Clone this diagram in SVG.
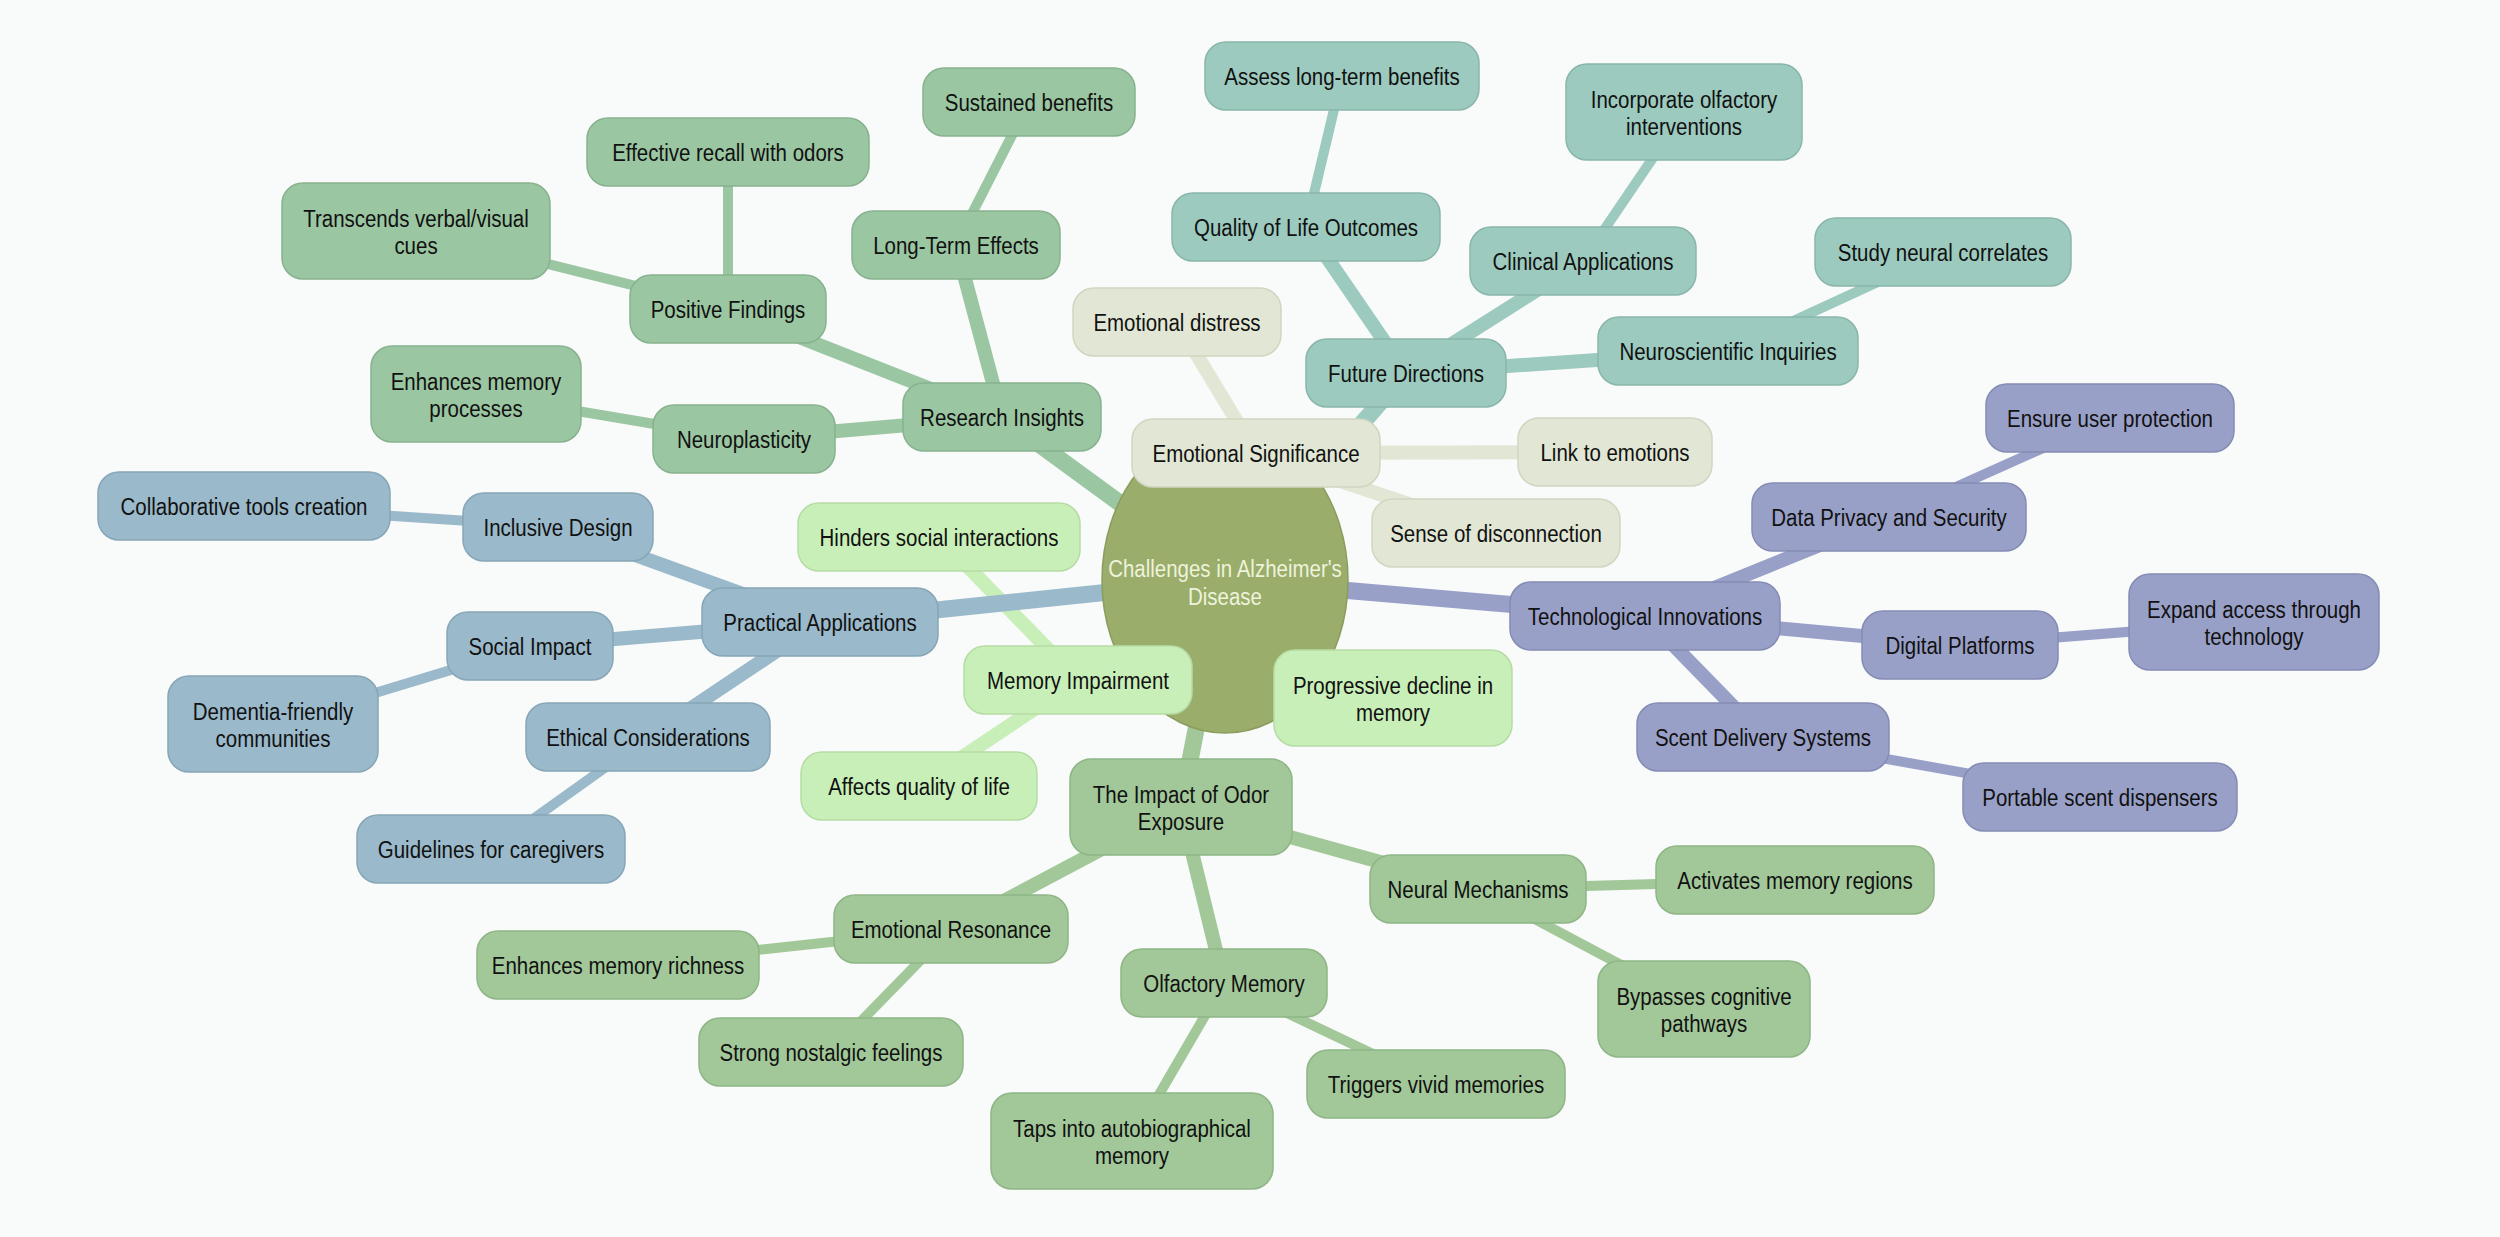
<svg xmlns="http://www.w3.org/2000/svg" width="2500" height="1237" viewBox="0 0 2500 1237">
<style>
  .bg { fill: #f9fafa; }
  .nd rect { rx: 21px; ry: 21px; stroke-width: 1.5; }
  .nd text { font-family: "Liberation Sans", Arial, sans-serif; font-size: 23px; fill: #111; text-anchor: middle; }
  .root ellipse { fill: #9aad6a; stroke: #8a9d5c; stroke-width: 1.5; }
  .root text { fill: #eef3dc; }
  .mem rect { fill: #c9efb8; stroke: #b6dca5; }
  .emo rect { fill: #e1e7d4; stroke: #cfd6c1; }
  .res rect { fill: #9bc6a2; stroke: #88b28f; }
  .fut rect { fill: #9ccabe; stroke: #89b6aa; }
  .tec rect { fill: #99a0c8; stroke: #858cb4; }
  .pra rect { fill: #9ab9ca; stroke: #87a6b7; }
  .imp rect { fill: #a2c899; stroke: #8fb586; }
  #edges line { stroke-linecap: round; fill: none; }
  .d0 { stroke-width: 17; }
  .d1 { stroke-width: 14; }
  .d2 { stroke-width: 10; }
  .e-mem { stroke: #c9efb8; }
  .e-emo { stroke: #e1e7d4; }
  .e-res { stroke: #9bc6a2; }
  .e-fut { stroke: #9ccabe; }
  .e-tec { stroke: #99a0c8; }
  .e-pra { stroke: #9ab9ca; }
  .e-imp { stroke: #a2c899; }
</style>
<rect class="bg" x="0" y="0" width="2500" height="1237"/>

<g id="edges">
  <!-- Memory Impairment -->
  <line class="d0 e-mem" x1="1225" y1="580" x2="1078" y2="680"/>
  <line class="d1 e-mem" x1="1078" y1="680" x2="1393" y2="698"/>
  <line class="d1 e-mem" x1="1078" y1="680" x2="939" y2="537"/>
  <line class="d1 e-mem" x1="1078" y1="680" x2="919" y2="786"/>
  <!-- Emotional Significance -->
  <line class="d0 e-emo" x1="1225" y1="580" x2="1256" y2="453"/>
  <line class="d1 e-emo" x1="1256" y1="453" x2="1177" y2="322"/>
  <line class="d1 e-emo" x1="1256" y1="453" x2="1615" y2="452"/>
  <line class="d1 e-emo" x1="1256" y1="453" x2="1496" y2="533"/>
  <!-- Research Insights -->
  <line class="d0 e-res" x1="1225" y1="580" x2="1002" y2="417"/>
  <line class="d1 e-res" x1="1002" y1="417" x2="728" y2="309"/>
  <line class="d2 e-res" x1="728" y1="309" x2="728" y2="152"/>
  <line class="d2 e-res" x1="728" y1="309" x2="416" y2="231"/>
  <line class="d1 e-res" x1="1002" y1="417" x2="956" y2="245"/>
  <line class="d2 e-res" x1="956" y1="245" x2="1029" y2="102"/>
  <line class="d1 e-res" x1="1002" y1="417" x2="744" y2="439"/>
  <line class="d2 e-res" x1="744" y1="439" x2="476" y2="394"/>
  <!-- Future Directions -->
  <line class="d0 e-fut" x1="1225" y1="580" x2="1406" y2="373"/>
  <line class="d1 e-fut" x1="1406" y1="373" x2="1306" y2="227"/>
  <line class="d2 e-fut" x1="1306" y1="227" x2="1342" y2="76"/>
  <line class="d1 e-fut" x1="1406" y1="373" x2="1583" y2="261"/>
  <line class="d2 e-fut" x1="1583" y1="261" x2="1684" y2="112"/>
  <line class="d1 e-fut" x1="1406" y1="373" x2="1728" y2="351"/>
  <line class="d2 e-fut" x1="1728" y1="351" x2="1943" y2="252"/>
  <!-- Technological Innovations -->
  <line class="d0 e-tec" x1="1225" y1="580" x2="1645" y2="616"/>
  <line class="d1 e-tec" x1="1645" y1="616" x2="1889" y2="517"/>
  <line class="d2 e-tec" x1="1889" y1="517" x2="2110" y2="418"/>
  <line class="d1 e-tec" x1="1645" y1="616" x2="1960" y2="645"/>
  <line class="d2 e-tec" x1="1960" y1="645" x2="2254" y2="622"/>
  <line class="d1 e-tec" x1="1645" y1="616" x2="1763" y2="737"/>
  <line class="d2 e-tec" x1="1763" y1="737" x2="2100" y2="797"/>
  <!-- Practical Applications -->
  <line class="d0 e-pra" x1="1225" y1="580" x2="820" y2="622"/>
  <line class="d1 e-pra" x1="820" y1="622" x2="558" y2="527"/>
  <line class="d2 e-pra" x1="558" y1="527" x2="244" y2="506"/>
  <line class="d1 e-pra" x1="820" y1="622" x2="530" y2="646"/>
  <line class="d2 e-pra" x1="530" y1="646" x2="273" y2="724"/>
  <line class="d1 e-pra" x1="820" y1="622" x2="648" y2="737"/>
  <line class="d2 e-pra" x1="648" y1="737" x2="491" y2="849"/>
  <!-- Impact of Odor Exposure -->
  <line class="d0 e-imp" x1="1225" y1="580" x2="1181" y2="807"/>
  <line class="d1 e-imp" x1="1181" y1="807" x2="951" y2="929"/>
  <line class="d2 e-imp" x1="951" y1="929" x2="618" y2="965"/>
  <line class="d2 e-imp" x1="951" y1="929" x2="831" y2="1052"/>
  <line class="d1 e-imp" x1="1181" y1="807" x2="1224" y2="983"/>
  <line class="d2 e-imp" x1="1224" y1="983" x2="1132" y2="1141"/>
  <line class="d2 e-imp" x1="1224" y1="983" x2="1436" y2="1084"/>
  <line class="d1 e-imp" x1="1181" y1="807" x2="1478" y2="889"/>
  <line class="d2 e-imp" x1="1478" y1="889" x2="1795" y2="880"/>
  <line class="d2 e-imp" x1="1478" y1="889" x2="1704" y2="1009"/>
</g>

<g id="nodes">
  <g id="root" class="nd root" transform="translate(1225,580)">
    <ellipse cx="0" cy="0" rx="123" ry="153"/>
    <text transform="scale(0.89,1)" y="-3">Challenges in Alzheimer's</text>
    <text transform="scale(0.89,1)" y="25">Disease</text>
  </g>

  <!-- Memory Impairment -->
  <g id="n-mem" class="nd mem" transform="translate(1078,680)"><rect x="-114" y="-34" width="228" height="68"/><text transform="scale(0.89,1)" y="9">Memory Impairment</text></g>
  <g id="n-prog" class="nd mem" transform="translate(1393,698)"><rect x="-119" y="-48" width="238" height="96"/><text transform="scale(0.89,1)" y="-4">Progressive decline in</text><text transform="scale(0.89,1)" y="23">memory</text></g>
  <g id="n-hind" class="nd mem" transform="translate(939,537)"><rect x="-141" y="-34" width="282" height="68"/><text transform="scale(0.89,1)" y="9">Hinders social interactions</text></g>
  <g id="n-aff" class="nd mem" transform="translate(919,786)"><rect x="-118" y="-34" width="236" height="68"/><text transform="scale(0.89,1)" y="9">Affects quality of life</text></g>

  <!-- Emotional Significance -->
  <g id="n-emo" class="nd emo" transform="translate(1256,453)"><rect x="-124" y="-34" width="248" height="68"/><text transform="scale(0.89,1)" y="9">Emotional Significance</text></g>
  <g id="n-dist" class="nd emo" transform="translate(1177,322)"><rect x="-104" y="-34" width="208" height="68"/><text transform="scale(0.89,1)" y="9">Emotional distress</text></g>
  <g id="n-link" class="nd emo" transform="translate(1615,452)"><rect x="-97" y="-34" width="194" height="68"/><text transform="scale(0.89,1)" y="9">Link to emotions</text></g>
  <g id="n-disc" class="nd emo" transform="translate(1496,533)"><rect x="-124" y="-34" width="248" height="68"/><text transform="scale(0.89,1)" y="9">Sense of disconnection</text></g>

  <!-- Research Insights -->
  <g id="n-ri" class="nd res" transform="translate(1002,417)"><rect x="-99" y="-34" width="198" height="68"/><text transform="scale(0.89,1)" y="9">Research Insights</text></g>
  <g id="n-pf" class="nd res" transform="translate(728,309)"><rect x="-98" y="-34" width="196" height="68"/><text transform="scale(0.89,1)" y="9">Positive Findings</text></g>
  <g id="n-erw" class="nd res" transform="translate(728,152)"><rect x="-141" y="-34" width="282" height="68"/><text transform="scale(0.89,1)" y="9">Effective recall with odors</text></g>
  <g id="n-tvv" class="nd res" transform="translate(416,231)"><rect x="-134" y="-48" width="268" height="96"/><text transform="scale(0.89,1)" y="-4">Transcends verbal/visual</text><text transform="scale(0.89,1)" y="23">cues</text></g>
  <g id="n-lte" class="nd res" transform="translate(956,245)"><rect x="-104" y="-34" width="208" height="68"/><text transform="scale(0.89,1)" y="9">Long-Term Effects</text></g>
  <g id="n-sb" class="nd res" transform="translate(1029,102)"><rect x="-106" y="-34" width="212" height="68"/><text transform="scale(0.89,1)" y="9">Sustained benefits</text></g>
  <g id="n-np" class="nd res" transform="translate(744,439)"><rect x="-91" y="-34" width="182" height="68"/><text transform="scale(0.89,1)" y="9">Neuroplasticity</text></g>
  <g id="n-emp" class="nd res" transform="translate(476,394)"><rect x="-105" y="-48" width="210" height="96"/><text transform="scale(0.89,1)" y="-4">Enhances memory</text><text transform="scale(0.89,1)" y="23">processes</text></g>

  <!-- Future Directions -->
  <g id="n-fd" class="nd fut" transform="translate(1406,373)"><rect x="-100" y="-34" width="200" height="68"/><text transform="scale(0.89,1)" y="9">Future Directions</text></g>
  <g id="n-qlo" class="nd fut" transform="translate(1306,227)"><rect x="-134" y="-34" width="268" height="68"/><text transform="scale(0.89,1)" y="9">Quality of Life Outcomes</text></g>
  <g id="n-alb" class="nd fut" transform="translate(1342,76)"><rect x="-137" y="-34" width="274" height="68"/><text transform="scale(0.89,1)" y="9">Assess long-term benefits</text></g>
  <g id="n-ca" class="nd fut" transform="translate(1583,261)"><rect x="-113" y="-34" width="226" height="68"/><text transform="scale(0.89,1)" y="9">Clinical Applications</text></g>
  <g id="n-ioi" class="nd fut" transform="translate(1684,112)"><rect x="-118" y="-48" width="236" height="96"/><text transform="scale(0.89,1)" y="-4">Incorporate olfactory</text><text transform="scale(0.89,1)" y="23">interventions</text></g>
  <g id="n-nsi" class="nd fut" transform="translate(1728,351)"><rect x="-130" y="-34" width="260" height="68"/><text transform="scale(0.89,1)" y="9">Neuroscientific Inquiries</text></g>
  <g id="n-snc" class="nd fut" transform="translate(1943,252)"><rect x="-128" y="-34" width="256" height="68"/><text transform="scale(0.89,1)" y="9">Study neural correlates</text></g>

  <!-- Technological Innovations -->
  <g id="n-ti" class="nd tec" transform="translate(1645,616)"><rect x="-135" y="-34" width="270" height="68"/><text transform="scale(0.89,1)" y="9">Technological Innovations</text></g>
  <g id="n-dps" class="nd tec" transform="translate(1889,517)"><rect x="-137" y="-34" width="274" height="68"/><text transform="scale(0.89,1)" y="9">Data Privacy and Security</text></g>
  <g id="n-eup" class="nd tec" transform="translate(2110,418)"><rect x="-124" y="-34" width="248" height="68"/><text transform="scale(0.89,1)" y="9">Ensure user protection</text></g>
  <g id="n-dp" class="nd tec" transform="translate(1960,645)"><rect x="-98" y="-34" width="196" height="68"/><text transform="scale(0.89,1)" y="9">Digital Platforms</text></g>
  <g id="n-eat" class="nd tec" transform="translate(2254,622)"><rect x="-125" y="-48" width="250" height="96"/><text transform="scale(0.89,1)" y="-4">Expand access through</text><text transform="scale(0.89,1)" y="23">technology</text></g>
  <g id="n-sds" class="nd tec" transform="translate(1763,737)"><rect x="-126" y="-34" width="252" height="68"/><text transform="scale(0.89,1)" y="9">Scent Delivery Systems</text></g>
  <g id="n-psd" class="nd tec" transform="translate(2100,797)"><rect x="-137" y="-34" width="274" height="68"/><text transform="scale(0.89,1)" y="9">Portable scent dispensers</text></g>

  <!-- Practical Applications -->
  <g id="n-pa" class="nd pra" transform="translate(820,622)"><rect x="-118" y="-34" width="236" height="68"/><text transform="scale(0.89,1)" y="9">Practical Applications</text></g>
  <g id="n-id" class="nd pra" transform="translate(558,527)"><rect x="-95" y="-34" width="190" height="68"/><text transform="scale(0.89,1)" y="9">Inclusive Design</text></g>
  <g id="n-ctc" class="nd pra" transform="translate(244,506)"><rect x="-146" y="-34" width="292" height="68"/><text transform="scale(0.89,1)" y="9">Collaborative tools creation</text></g>
  <g id="n-si" class="nd pra" transform="translate(530,646)"><rect x="-83" y="-34" width="166" height="68"/><text transform="scale(0.89,1)" y="9">Social Impact</text></g>
  <g id="n-dfc" class="nd pra" transform="translate(273,724)"><rect x="-105" y="-48" width="210" height="96"/><text transform="scale(0.89,1)" y="-4">Dementia-friendly</text><text transform="scale(0.89,1)" y="23">communities</text></g>
  <g id="n-ec" class="nd pra" transform="translate(648,737)"><rect x="-122" y="-34" width="244" height="68"/><text transform="scale(0.89,1)" y="9">Ethical Considerations</text></g>
  <g id="n-gfc" class="nd pra" transform="translate(491,849)"><rect x="-134" y="-34" width="268" height="68"/><text transform="scale(0.89,1)" y="9">Guidelines for caregivers</text></g>

  <!-- The Impact of Odor Exposure -->
  <g id="n-io" class="nd imp" transform="translate(1181,807)"><rect x="-111" y="-48" width="222" height="96"/><text transform="scale(0.89,1)" y="-4">The Impact of Odor</text><text transform="scale(0.89,1)" y="23">Exposure</text></g>
  <g id="n-er" class="nd imp" transform="translate(951,929)"><rect x="-117" y="-34" width="234" height="68"/><text transform="scale(0.89,1)" y="9">Emotional Resonance</text></g>
  <g id="n-emr" class="nd imp" transform="translate(618,965)"><rect x="-141" y="-34" width="282" height="68"/><text transform="scale(0.89,1)" y="9">Enhances memory richness</text></g>
  <g id="n-snf" class="nd imp" transform="translate(831,1052)"><rect x="-132" y="-34" width="264" height="68"/><text transform="scale(0.89,1)" y="9">Strong nostalgic feelings</text></g>
  <g id="n-om" class="nd imp" transform="translate(1224,983)"><rect x="-103" y="-34" width="206" height="68"/><text transform="scale(0.89,1)" y="9">Olfactory Memory</text></g>
  <g id="n-tia" class="nd imp" transform="translate(1132,1141)"><rect x="-141" y="-48" width="282" height="96"/><text transform="scale(0.89,1)" y="-4">Taps into autobiographical</text><text transform="scale(0.89,1)" y="23">memory</text></g>
  <g id="n-tvm" class="nd imp" transform="translate(1436,1084)"><rect x="-129" y="-34" width="258" height="68"/><text transform="scale(0.89,1)" y="9">Triggers vivid memories</text></g>
  <g id="n-nm" class="nd imp" transform="translate(1478,889)"><rect x="-108" y="-34" width="216" height="68"/><text transform="scale(0.89,1)" y="9">Neural Mechanisms</text></g>
  <g id="n-amr" class="nd imp" transform="translate(1795,880)"><rect x="-139" y="-34" width="278" height="68"/><text transform="scale(0.89,1)" y="9">Activates memory regions</text></g>
  <g id="n-bcp" class="nd imp" transform="translate(1704,1009)"><rect x="-106" y="-48" width="212" height="96"/><text transform="scale(0.89,1)" y="-4">Bypasses cognitive</text><text transform="scale(0.89,1)" y="23">pathways</text></g>
</g>
</svg>
